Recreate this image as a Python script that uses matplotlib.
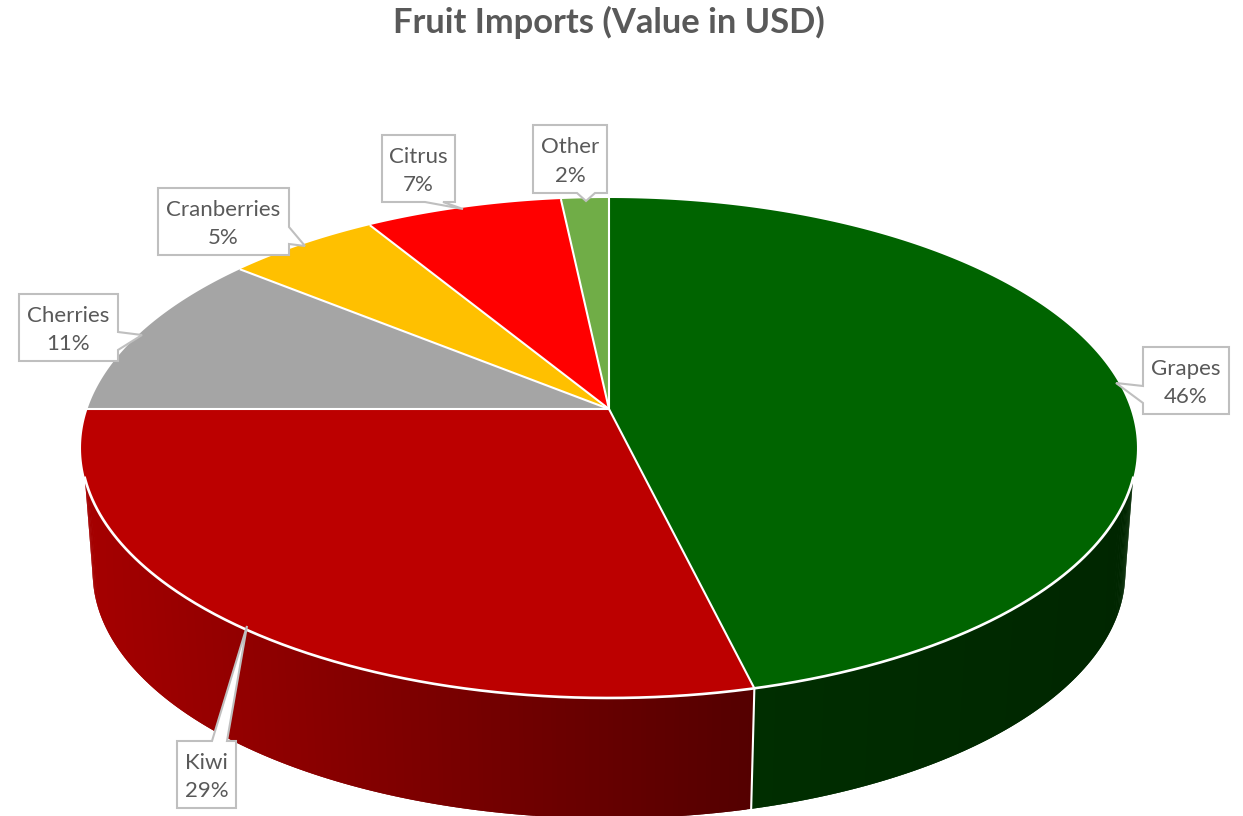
import numpy as np
import matplotlib
matplotlib.use("Agg")
import matplotlib.pyplot as plt
from matplotlib.patches import Polygon
from matplotlib.collections import PolyCollection

# ---- data ----
categories = ["Grapes", "Kiwi", "Cherries", "Cranberries", "Citrus", "Other"]
values = [46.2, 28.8, 10.83, 5.47, 7.0, 1.7]
title = "Fruit Imports (Value in USD)"

# ---- style ----
colors = ["#006400", "#BC0000", "#A5A5A5", "#FFC000", "#FF0000", "#70AD47"]
# wall shade (left colour, right colour) by slice; only front slices show a wall
wall_shades = {"Grapes": ((0, 46, 0), (0, 38, 0)), "Kiwi": ((165, 0, 0), (84, 0, 0))}
TEXT = "#595959"
BORDER = "#BFBFBF"
plt.rcParams["font.family"] = ["Lato", "DejaVu Sans"]

# ---- perspective disc geometry (pixels) ----
CX, K = 609.0, -0.156
TOP = dict(y0=409.0, bx=521.5, ay=243.9)
BOT = dict(y0=534.0, bx=510.0, ay=240.0)
WALL_START, WALL_END = 105.7, 254.3  # degrees clockwise from top
ROUND_SPAN, ROUND_SHIFT = 20.0, 5.7  # rounds the lower corners of the wall


def project(theta_deg, disc):
    t = np.radians(theta_deg)
    u, v = np.sin(t), -np.cos(t)
    d = 1 + K * v
    return CX + disc["bx"] * u / d, disc["y0"] + disc["ay"] * v / d


def bottom_angle(th):
    th = np.asarray(th, dtype=float)
    right = np.clip((WALL_START + ROUND_SPAN - th) / ROUND_SPAN, 0, 1)
    left = np.clip((th - (WALL_END - ROUND_SPAN)) / ROUND_SPAN, 0, 1)
    return th - ROUND_SHIFT * right + ROUND_SHIFT * left


fig = plt.figure(figsize=(12.43, 8.16), dpi=100, facecolor="white")
ax = fig.add_axes([0, 0, 1, 1])
ax.set_xlim(0, 1243)
ax.set_ylim(816, 0)
ax.axis("off")

fractions = np.array(values) / sum(values)
edges = np.concatenate([[0], np.cumsum(fractions)]) * 360

# walls: strips overlap the next station and are painted in order, so no seams show
for i, name in enumerate(categories):
    if name not in wall_shades:
        continue
    a = max(edges[i], WALL_START)
    b = min(edges[i + 1], WALL_END)
    th = np.linspace(a, b, 200)
    xt, yt = project(th, TOP)
    xb, yb = project(bottom_angle(th), BOT)
    c0, c1 = np.array(wall_shades[name], dtype=float)
    xmin, xmax = xt.min(), xt.max()
    quads, cols = [], []
    for j in range(len(th) - 1):
        k = min(j + 2, len(th) - 1)
        stations = range(j, k + 1)
        quads.append([(xt[s], yt[s]) for s in stations] + [(xb[s], yb[s]) for s in reversed(stations)])
        f = (xt[j] - xmin) / (xmax - xmin)
        cols.append((c0 + (c1 - c0) * f) / 255)
    ax.add_collection(PolyCollection(quads, facecolors=cols, edgecolors="none", zorder=1))

# wall separator at grapes / kiwi
sep = edges[1]
xs1, ys1 = project(sep, TOP)
xs2, ys2 = project(sep, BOT)
ax.plot([xs1, xs2], [ys1, ys2], color="white", lw=1.5, zorder=2)

# top face
for i, name in enumerate(categories):
    th = np.linspace(edges[i], edges[i + 1], 200)
    x, y = project(th, TOP)
    pts = np.column_stack([np.r_[CX, x], np.r_[TOP["y0"], y]])
    ax.add_patch(Polygon(pts, closed=True, facecolor=colors[i], edgecolor="none", zorder=3))
for e in edges[:-1]:
    x, y = project(e, TOP)
    ax.plot([CX, x], [TOP["y0"], y], color="white", lw=1.5, zorder=4, solid_capstyle="butt")
th = np.linspace(WALL_START, WALL_END, 400)
x, y = project(th, TOP)
ax.plot(x, y, color="white", lw=1.9, zorder=4)

# callouts: box (left, top, right, bottom), pointer (base1, tip, base2)
callouts = {
    "Grapes": ((1143, 347, 1229, 414), ((1143, 403), (1116, 383), (1143, 386))),
    "Kiwi": ((177, 741, 236, 808), ((212, 741), (247, 626), (227, 741))),
    "Cherries": ((19, 294, 118, 361), ((118, 332), (142, 335), (118, 350))),
    "Cranberries": ((158, 188, 289, 255), ((289, 227), (305, 246), (289, 244))),
    "Citrus": ((382, 135, 455, 202), ((425, 202), (463, 209), (443, 202))),
    "Other": ((533, 125, 607, 193), ((577, 193), (586, 201), (595, 193))),
}
for name, val in zip(categories, fractions * 100):
    (l, t, r, b), (p1, tip, p2) = callouts[name]
    if p1[0] == l:
        pts = [(l, t), (r, t), (r, b), (l, b), p1, tip, p2]
    elif p1[0] == r:
        pts = [(l, t), (r, t), p1, tip, p2, (r, b), (l, b)]
    elif p1[1] == t:
        pts = [(l, t), p1, tip, p2, (r, t), (r, b), (l, b)]
    else:
        pts = [(l, t), (r, t), (r, b), p2, tip, p1, (l, b)]
    ax.add_patch(Polygon(pts, closed=True, facecolor="white", edgecolor=BORDER, lw=1.5, zorder=6, joinstyle="miter"))
    ax.text((l + r) / 2, (t + b) / 2 + 2.5, f"{name}\n{round(val)}%", ha="center", va="center",
            fontsize=16, color=TEXT, zorder=7, linespacing=1.55)

ax.text(608.5, 22, title, ha="center", va="center", fontsize=24.8, fontweight="bold", color=TEXT, zorder=7)

fig.savefig("out.png", dpi=100, facecolor="white")
